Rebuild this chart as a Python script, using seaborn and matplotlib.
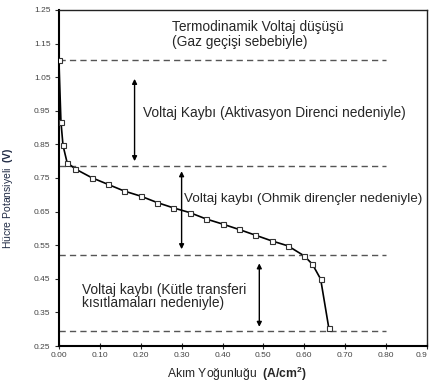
import matplotlib
matplotlib.use("Agg")
import matplotlib.pyplot as plt
import seaborn as sns
import pandas as pd

# ---- data ----
current_density = [0.00, 0.005, 0.01, 0.02, 0.04, 0.08, 0.12, 0.16, 0.20, 0.24, 0.28,
                   0.32, 0.36, 0.40, 0.44, 0.48, 0.52, 0.56, 0.60, 0.62, 0.64, 0.66]
cell_voltage = [1.10, 0.917, 0.847, 0.796, 0.777, 0.751, 0.731, 0.711, 0.696, 0.677, 0.661,
                0.647, 0.628, 0.613, 0.597, 0.580, 0.563, 0.548, 0.518, 0.493, 0.449, 0.303]

boundary_levels = [1.10, 0.785, 0.52, 0.295]
boundary_x_end = 0.80

arrow_x = [0.185, 0.30, 0.49]
arrow_top = [1.045, 0.770, 0.496]
arrow_bottom = [0.800, 0.538, 0.307]

x_ticks = [0.00, 0.10, 0.20, 0.30, 0.40, 0.50, 0.60, 0.70, 0.80, 0.90]
x_tick_labels = ["0.00", "0.10", "0.20", "0.30", "0.40", "0.50", "0.60", "0.70", "0.80", "0.9"]
y_ticks = [0.25, 0.35, 0.45, 0.55, 0.65, 0.75, 0.85, 0.95, 1.05, 1.15, 1.25]
y_tick_labels = ["0.25", "0.35", "0.45", "0.55", "0.65", "0.75", "0.85", "0.95", "1.05", "1.15", "1.25"]

texts = ["Termodinamik Voltaj düşüşü", "(Gaz geçişi sebebiyle)",
         "Voltaj Kaybı (Aktivasyon Direnci nedeniyle)",
         "Voltaj kaybı (Ohmik dirençler nedeniyle)",
         "Voltaj kaybı (Kütle transferi", "kısıtlamaları nedeniyle)"]

# ---- style ----
sns.set_style("ticks")
plt.rcParams["font.family"] = ["Liberation Sans", "DejaVu Sans"]
plt.rcParams["mathtext.fontset"] = "custom"
plt.rcParams["mathtext.rm"] = "Liberation Sans"
plt.rcParams["mathtext.bf"] = "Liberation Sans:bold"

fig = plt.figure(figsize=(4.30, 3.83), dpi=100)
ax = fig.add_axes([0.137, 0.0966, 0.856, 0.8774])

df = pd.DataFrame({"x": current_density, "y": cell_voltage})
sns.lineplot(data=df, x="x", y="y", ax=ax, color="black", linewidth=1.2,
             marker="s", markersize=3.6, markerfacecolor="white",
             markeredgecolor="#333333", markeredgewidth=0.8, sort=False, zorder=3)

for lvl in boundary_levels:
    ax.plot([0.0, boundary_x_end], [lvl, lvl], color="#555555", lw=1.0,
            dashes=(4.5, 3), zorder=2)

for xa, yt, yb in zip(arrow_x, arrow_top, arrow_bottom):
    ax.annotate("", xy=(xa, yt), xytext=(xa, yb),
                arrowprops=dict(arrowstyle="<|-|>", color="black", lw=1.0,
                                mutation_scale=7, shrinkA=0, shrinkB=0))

fs = 9.9
ax.text(0.276, 1.199, texts[0], fontsize=fs, va="center", ha="left")
ax.text(0.276, 1.155, texts[1], fontsize=fs, va="center", ha="left")
ax.text(0.205, 0.944, texts[2], fontsize=fs, va="center", ha="left")
ax.text(0.307, 0.687, texts[3], fontsize=9.7, va="center", ha="left")
ax.text(0.056, 0.417, texts[4], fontsize=fs, va="center", ha="left")
ax.text(0.056, 0.378, texts[5], fontsize=fs, va="center", ha="left")

ax.set_xlim(0.0, 0.90)
ax.set_ylim(0.25, 1.25)
ax.set_xticks(x_ticks)
ax.set_xticklabels(x_tick_labels)
ax.get_xticklabels()[-1].set_horizontalalignment("right")
ax.set_yticks(y_ticks)
ax.set_yticklabels(y_tick_labels)
ax.tick_params(axis="x", direction="inout", length=4, width=0.8, labelsize=6,
               labelcolor="#444444", pad=2)
ax.tick_params(axis="y", direction="out", length=3, width=0.8, labelsize=6,
               labelcolor="#444444", pad=3)

for side in ["left", "bottom"]:
    ax.spines[side].set_linewidth(1.5)
    ax.spines[side].set_color("black")
for side in ["top", "right"]:
    ax.spines[side].set_linewidth(1.0)
    ax.spines[side].set_color("#222222")

ax.set_xlabel(r"Akım Yoğunluğu  $\mathbf{(A/cm^2)}$", fontsize=8.7)
ax.xaxis.set_label_coords(0.484, -0.055)
ax.set_ylabel(r"Hücre Potansiyeli  $\mathbf{(V)}$", fontsize=7.5, color="#1f2a44")
ax.yaxis.set_label_coords(-0.118, 0.44)

fig.savefig("out.png", dpi=100)
